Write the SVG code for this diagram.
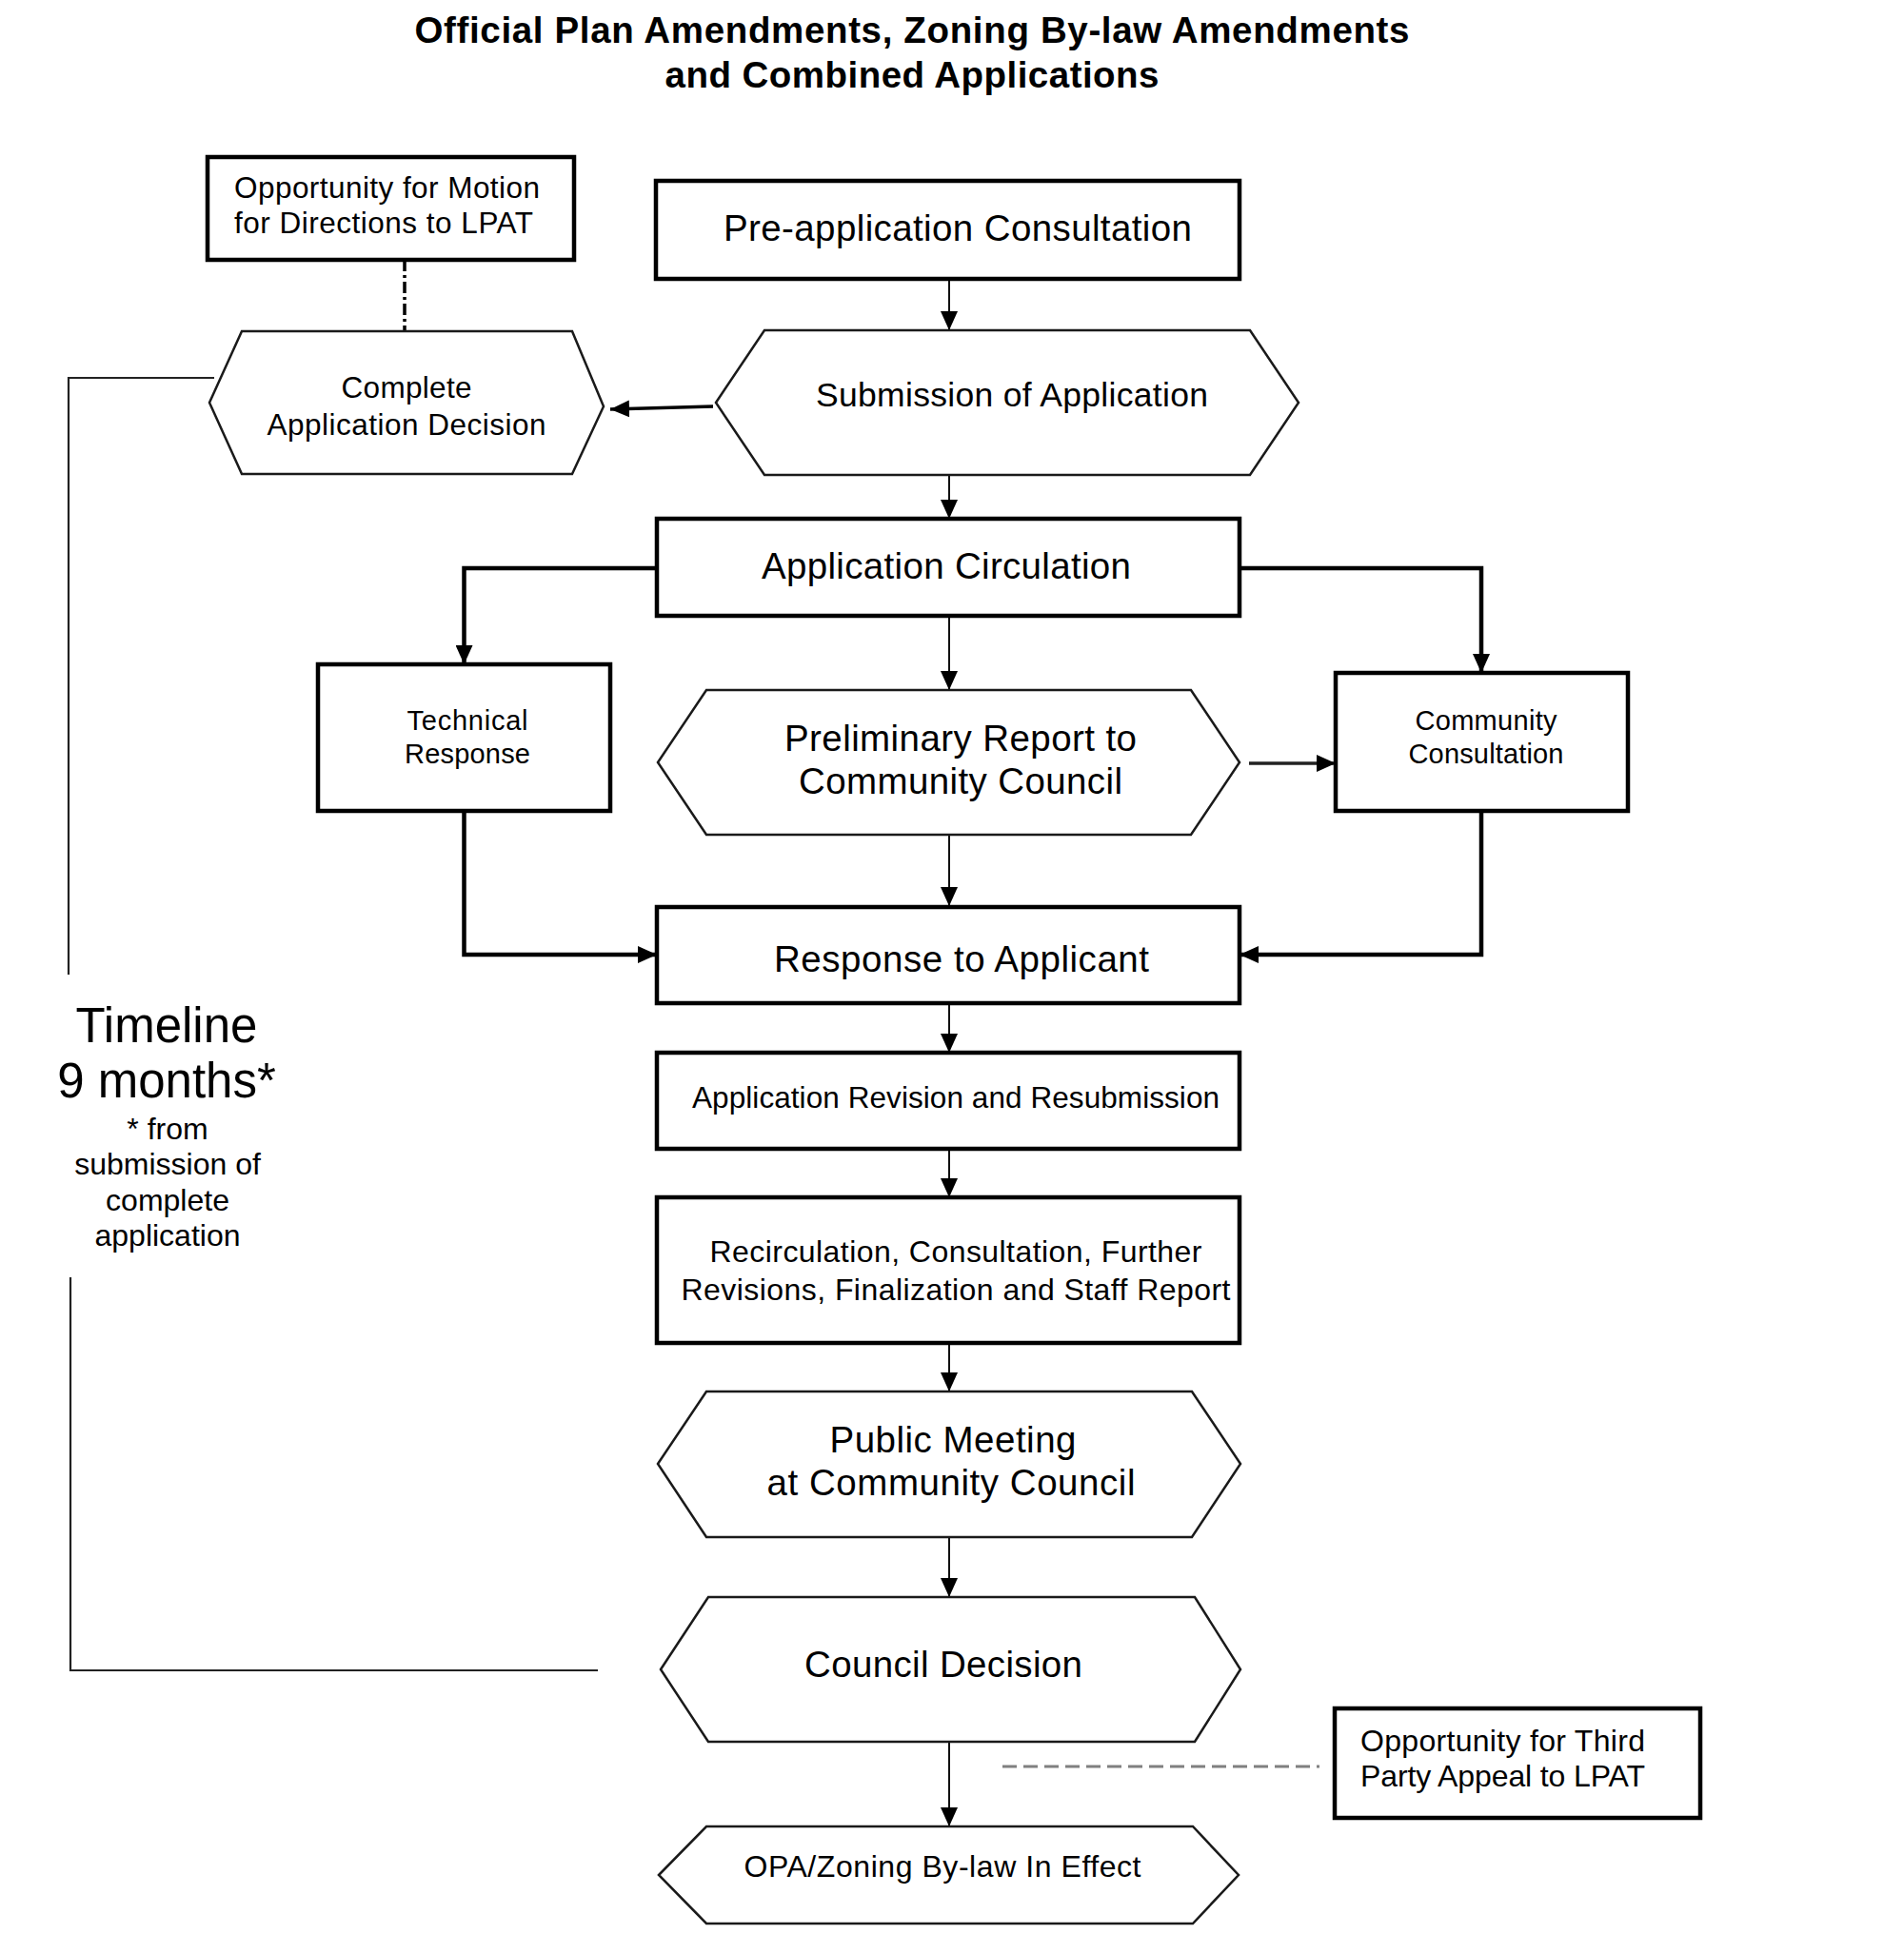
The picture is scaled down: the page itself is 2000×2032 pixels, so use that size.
<svg xmlns="http://www.w3.org/2000/svg" width="2000" height="2032" viewBox="0 0 2000 2032">
<style>
text{font-family:"Liberation Sans",Arial,sans-serif;fill:#000}
.t{font-weight:bold;font-size:38.5px}
.box{fill:#fff;stroke:#000;stroke-width:4.5}
.hex{fill:#fff;stroke:#1a1a1a;stroke-width:2.5}
.c{text-anchor:middle}
.thin{fill:none;stroke:#111;stroke-width:2}
.thick{fill:none;stroke:#000;stroke-width:4.5}
.tl{fill:none;stroke:#222;stroke-width:2.2}
</style>
<defs>
<marker id="ah" markerUnits="userSpaceOnUse" markerWidth="20" markerHeight="18" refX="20" refY="9" orient="auto">
<path d="M0,0 L20,9 L0,18 z" fill="#000"/>
</marker>
</defs>
<rect width="2000" height="2032" fill="#fff"/>

<g id="title">
<text class="t c" x="958" y="45" textLength="1045">Official Plan Amendments, Zoning By-law Amendments</text>
<text class="t c" x="958" y="92" textLength="519">and Combined Applications</text>
</g>

<g id="connectors">
<line class="thin" x1="997" y1="293" x2="997" y2="347" marker-end="url(#ah)"/>
<line class="thin" x1="997" y1="499" x2="997" y2="545" marker-end="url(#ah)"/>
<line class="thin" x1="997" y1="647" x2="997" y2="725" marker-end="url(#ah)"/>
<line class="thin" x1="997" y1="877" x2="997" y2="952" marker-end="url(#ah)"/>
<line class="thin" x1="997" y1="1054" x2="997" y2="1106" marker-end="url(#ah)"/>
<line class="thin" x1="997" y1="1207" x2="997" y2="1258" marker-end="url(#ah)"/>
<line class="thin" x1="997" y1="1411" x2="997" y2="1462" marker-end="url(#ah)"/>
<line class="thin" x1="997" y1="1615" x2="997" y2="1678" marker-end="url(#ah)"/>
<line class="thin" x1="997" y1="1830" x2="997" y2="1919" marker-end="url(#ah)"/>
<line fill="none" stroke="#000" stroke-width="3.5" x1="749" y1="427" x2="641" y2="430" marker-end="url(#ah)"/>
<polyline class="thick" points="690,597 487.5,597 487.5,698" marker-end="url(#ah)"/>
<polyline class="thick" points="1302,597 1556,597 1556,707" marker-end="url(#ah)"/>
<polyline class="thick" points="487.5,852 487.5,1003 690,1003" marker-end="url(#ah)"/>
<polyline class="thick" points="1556,852 1556,1003 1302,1003" marker-end="url(#ah)"/>
<line fill="none" stroke="#222" stroke-width="3.5" x1="1312" y1="802" x2="1403" y2="802" marker-end="url(#ah)"/>
<line fill="none" stroke="#000" stroke-width="3.5" stroke-dasharray="12 4 3 4" x1="425" y1="273" x2="425" y2="348"/>
<line fill="none" stroke="#808080" stroke-width="3" stroke-dasharray="15 7" x1="1053" y1="1856" x2="1386" y2="1856"/>
<polyline class="tl" points="225,397 72,397 72,1024"/>
<polyline class="tl" points="74,1342 74,1755 628,1755"/>
</g>

<g id="opp-motion">
<rect class="box" x="218" y="165" width="385" height="108"/>
<text x="246" y="208" font-size="31.5" textLength="321">Opportunity for Motion</text>
<text x="246" y="245" font-size="31.5" textLength="314">for Directions to LPAT</text>
</g>

<g id="pre-application">
<rect class="box" x="689" y="190" width="613" height="103"/>
<text class="c" x="1006" y="253" font-size="38.5" textLength="492">Pre-application Consultation</text>
</g>

<g id="complete-decision">
<polygon class="hex" points="220,423 254,348 601,348 634,427 601,498 254,498"/>
<text class="c" x="427" y="418" font-size="31.5" textLength="137">Complete</text>
<text class="c" x="427" y="457" font-size="31.5" textLength="293">Application Decision</text>
</g>

<g id="submission">
<polygon class="hex" points="752,423 803,347 1313,347 1364,423 1313,499 803,499"/>
<text class="c" x="1063" y="427" font-size="35.5" textLength="412">Submission of Application</text>
</g>

<g id="circulation">
<rect class="box" x="690" y="545" width="612" height="102"/>
<text class="c" x="994" y="608" font-size="38.5" textLength="388">Application Circulation</text>
</g>

<g id="technical">
<rect class="box" x="334" y="698" width="307" height="154"/>
<text class="c" x="491" y="767" font-size="29" textLength="127">Technical</text>
<text class="c" x="491" y="802" font-size="29" textLength="132">Response</text>
</g>

<g id="preliminary">
<polygon class="hex" points="691,801 742,725 1251,725 1302,801 1251,877 742,877"/>
<text class="c" x="1009" y="789" font-size="38.5" textLength="370">Preliminary Report to</text>
<text class="c" x="1009" y="834" font-size="38.5" textLength="340">Community Council</text>
</g>

<g id="community">
<rect class="box" x="1403" y="707" width="307" height="145"/>
<text class="c" x="1561" y="767" font-size="29" textLength="149">Community</text>
<text class="c" x="1561" y="802" font-size="29" textLength="163">Consultation</text>
</g>

<g id="response">
<rect class="box" x="690" y="953" width="612" height="101"/>
<text class="c" x="1010" y="1021" font-size="38.5" textLength="394">Response to Applicant</text>
</g>

<g id="revision">
<rect class="box" x="690" y="1106" width="612" height="101"/>
<text class="c" x="1004" y="1164" font-size="31.5" textLength="554">Application Revision and Resubmission</text>
</g>

<g id="recirculation">
<rect class="box" x="690" y="1258" width="612" height="153"/>
<text class="c" x="1004" y="1326" font-size="32" textLength="517">Recirculation, Consultation, Further</text>
<text class="c" x="1004" y="1366" font-size="32" textLength="577">Revisions, Finalization and Staff Report</text>
</g>

<g id="public-meeting">
<polygon class="hex" points="691,1538 742,1462 1252,1462 1303,1538 1252,1615 742,1615"/>
<text class="c" x="1001" y="1526" font-size="38.5" textLength="259">Public Meeting</text>
<text class="c" x="999" y="1571" font-size="38.5" textLength="387">at Community Council</text>
</g>

<g id="council-decision">
<polygon class="hex" points="694,1754 744,1678 1255,1678 1303,1754 1255,1830 744,1830"/>
<text class="c" x="991" y="1762" font-size="38.5" textLength="292">Council Decision</text>
</g>

<g id="opp-third">
<rect class="box" x="1402" y="1795" width="384" height="115"/>
<text x="1429" y="1840" font-size="32" textLength="299">Opportunity for Third</text>
<text x="1429" y="1877" font-size="32" textLength="299">Party Appeal to LPAT</text>
</g>

<g id="in-effect">
<polygon class="hex" points="692,1970 742,1919 1253,1919 1301,1970 1253,2021 742,2021"/>
<text class="c" x="990" y="1972" font-size="32" textLength="417">OPA/Zoning By-law In Effect</text>
</g>

<g id="timeline">
<text class="c" x="175" y="1095" font-size="51">Timeline</text>
<text class="c" x="175" y="1153" font-size="51">9 months*</text>
<text class="c" x="176" y="1197" font-size="32">* from</text>
<text class="c" x="176" y="1234" font-size="32">submission of</text>
<text class="c" x="176" y="1272" font-size="32">complete</text>
<text class="c" x="176" y="1309" font-size="32">application</text>
</g>
</svg>
